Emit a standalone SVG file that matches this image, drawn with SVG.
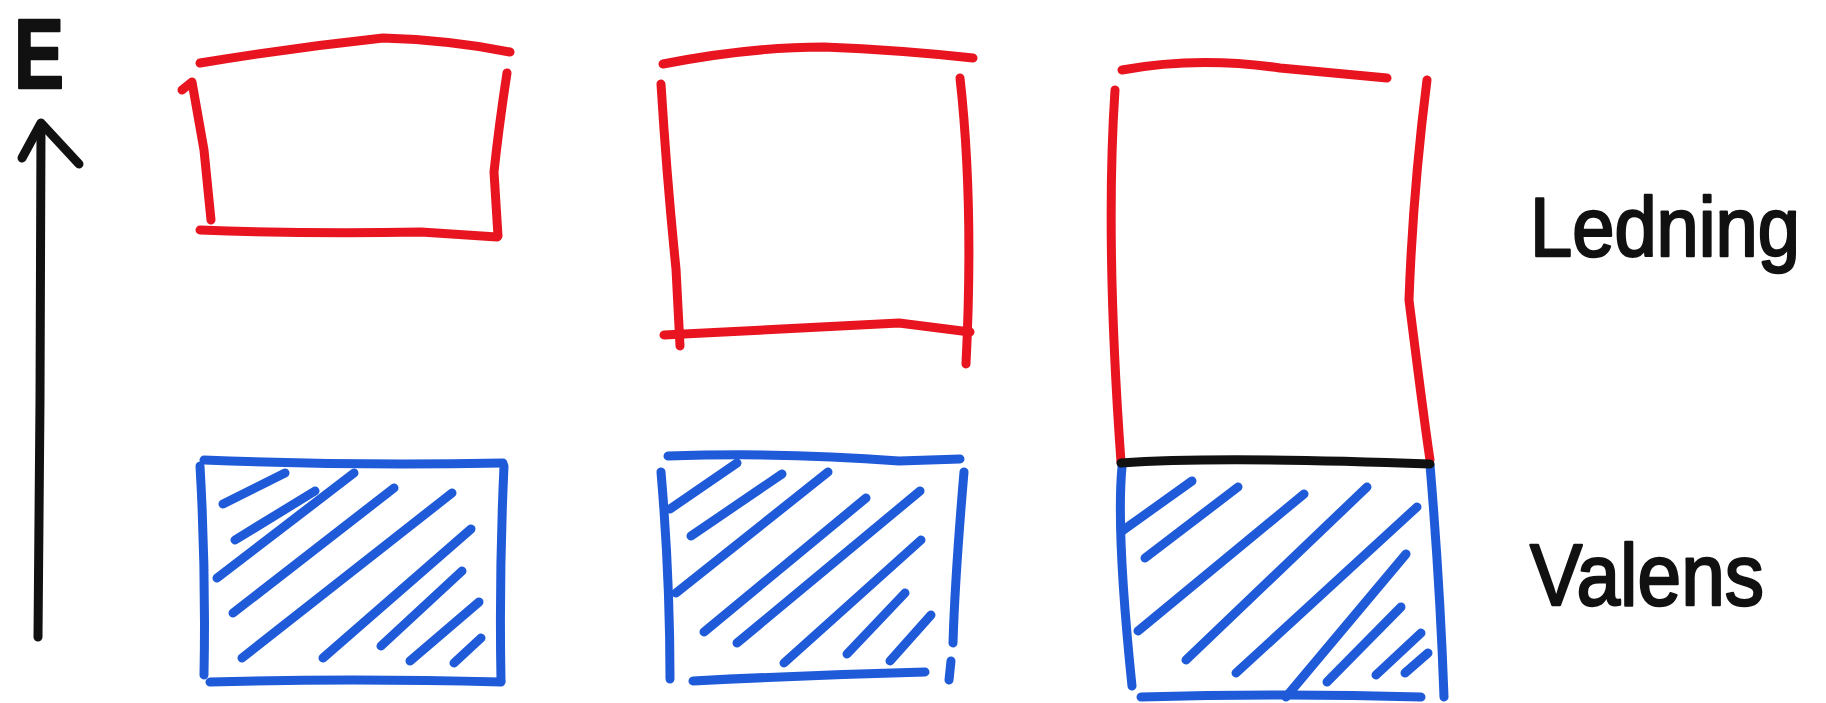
<svg xmlns="http://www.w3.org/2000/svg" width="1826" height="703" viewBox="0 0 1826 703">
<style>
.r{fill:none;stroke:#e8141f;stroke-width:9;stroke-linecap:round;stroke-linejoin:round}
.b{fill:none;stroke:#1f5ad8;stroke-width:9;stroke-linecap:round;stroke-linejoin:round}
.k{fill:none;stroke:#111;stroke-width:9;stroke-linecap:round;stroke-linejoin:round}
.t{font-family:"Liberation Sans",Arial,sans-serif;fill:#111;stroke:#111;stroke-width:2.5;stroke-linejoin:round}
</style>
<rect width="1826" height="703" fill="#fff"/>
<g id="axis">
<text class="t" x="14" y="88" font-size="98" font-weight="bold" textLength="50" lengthAdjust="spacingAndGlyphs">E</text>
<path class="k" d="M38,637 L40,400 L41,126"/>
<path class="k" d="M22,158 L41,123 L79,164"/>
</g>
<g id="conduction1">
<path class="r" d="M200,63 Q290,48 383,38 Q450,40 510,52"/>
<path class="r" d="M182,90 L192,82 L204,150 L211,220"/>
<path class="r" d="M200,230 Q306,234 421,232 L497,237"/>
<path class="r" d="M507,73 Q499,125 494,172 L498,236"/>
</g>
<g id="valence1">
<path class="b" d="M204,460 Q350,466 503,463"/>
<path class="b" d="M200,466 Q206,570 204,675"/>
<path class="b" d="M210,682 Q350,678 501,682"/>
<path class="b" d="M504,466 Q499,575 501,681"/>
<path class="b" d="M223,504 L285,473 M235,540 L315,491 M217,578 L354,473 M233,613 L394,488 M242,658 L452,493 M323,658 L471,529 M381,646 L462,571 M410,661 L479,602 M454,663 L481,638"/>
</g>
<g id="conduction2">
<path class="r" d="M663,64 Q750,47 824,47 Q900,50 973,58"/>
<path class="r" d="M661,84 Q667,181 676,269 L680,346"/>
<path class="r" d="M664,335 Q750,331 899,323 L970,332"/>
<path class="r" d="M960,78 Q974,203 966,364"/>
</g>
<g id="valence2">
<path class="b" d="M668,456 Q787,452 899,461 L960,459"/>
<path class="b" d="M661,472 Q670,577 670,679"/>
<path class="b" d="M693,681 Q810,675 925,672"/>
<path class="b" d="M964,472 Q955,577 953,643"/>
<path class="b" d="M951,661 L949,680"/>
<path class="b" d="M670,509 L737,463 M691,536 L782,474 M676,593 L828,472 M704,632 L866,498 M737,643 L920,491 M784,663 L921,540 M847,654 L905,593 M890,661 L931,615"/>
</g>
<g id="conduction3">
<path class="r" d="M1122,70 Q1197,56 1280,68 L1387,78"/>
<path class="r" d="M1115,90 Q1105,240 1121,462"/>
<path class="r" d="M1427,80 Q1413,190 1409,300 Q1424,420 1430,460"/>
</g>
<g id="valence3">
<path class="b" d="M1122,467 Q1116,531 1132,686"/>
<path class="b" d="M1430,465 Q1440,584 1444,697"/>
<path class="b" d="M1141,697 Q1286,693 1421,697"/>
<path class="b" d="M1122,531 L1192,481 M1145,558 L1238,487 M1138,631 L1304,494 M1186,660 L1367,487 M1236,673 L1417,507 M1286,697 L1406,554 M1327,682 L1401,607 M1376,675 L1421,633 M1405,673 L1428,653"/>
</g>
<g id="bandgap-edge">
<path class="k" d="M1121,463 Q1217,456 1430,464"/>
</g>
<g id="labels">
<text class="t" x="1530" y="256" font-size="84" textLength="270" lengthAdjust="spacingAndGlyphs">Ledning</text>
<text class="t" x="1530" y="605" font-size="88" textLength="234" lengthAdjust="spacingAndGlyphs">Valens</text>
</g>
</svg>
